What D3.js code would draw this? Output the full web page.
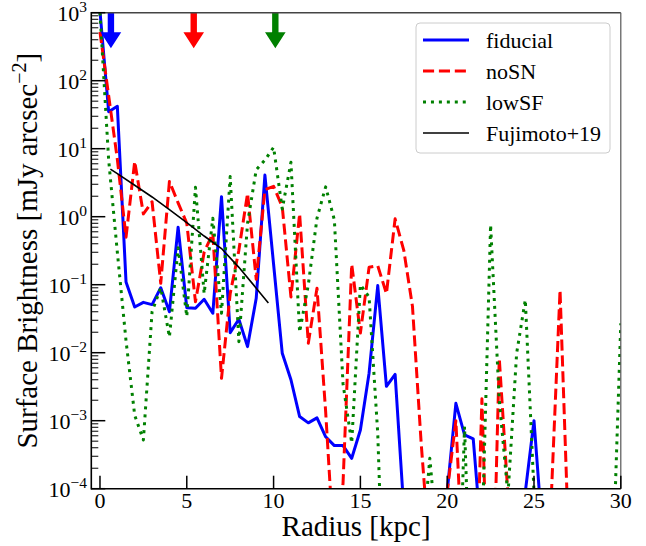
<!DOCTYPE html>
<html><head><meta charset="utf-8">
<script src="https://cdn.jsdelivr.net/npm/d3@7"></script>
<style>body{margin:0;background:#fff}svg{display:block}</style>
</head><body><svg id="c" width="646" height="546" font-family="Liberation Serif"></svg>
<script>
// ---- data ----
const radius = [
  0,0.5,1,1.5,2,2.5,3,3.5,4,4.5,
  5,5.5,6,6.5,7,7.5,8,8.5,9,9.5,
  10,10.5,11,11.5,12,12.5,13,13.5,14,14.5,
  15,15.5,16,16.5,17,17.5,18,18.5,19,19.5,
  20,20.5,21,21.5,22,22.5,23,23.5,24,24.5,
  25,25.5,26,26.5,27,27.5,28,28.5,29,29.5,
  30];
const fiducial = [
  1050,35,42,0.11,0.047,0.055,0.051,0.09,0.04,0.7,
  0.046,0.045,0.061,0.038,1.97,0.0197,0.031,0.0123,0.063,4.1,
  0.2,0.0098,0.004,0.00115,0.00093,0.0011,0.00058,0.00043,0.00043,0.00028,
  0.00073,0.005,0.097,0.0032,0.0048,5e-5,1e-7,1e-7,1e-7,1e-7,
  9e-5,0.0018,0.00062,0.00054,1.5e-5,1e-7,1e-7,1e-7,1e-7,9e-5,
  0.001,2e-5,1e-7,1e-7,1e-7,1e-7,1e-7,1e-7,1e-7,1e-7,
  1e-7];
const noSN = [
  520,60,7,0.5,6.5,1.1,1.66,0.105,3.3,1.6,
  0.8,0.056,0.3,0.57,0.0042,0.074,0.32,2.2,0.12,2.5,
  2.8,1.4,0.066,1.1,0.0138,0.089,0.00135,1e-5,1.2e-4,0.2,
  0.0195,0.18,0.19,0.074,0.93,0.32,0.048,0.00047,1e-5,1e-7,
  9e-5,0.001,2e-6,1e-7,0.0021,1e-7,0.0083,8e-5,1e-7,1e-7,
  1e-7,1e-7,8e-5,0.083,1.5e-5,1e-7,1e-7,1e-7,1e-7,1e-7,
  1e-7];
const lowSF = [
  1000,6.8,0.3,0.015,0.0012,0.00052,0.04,0.09,0.017,0.35,
  0.034,2.7,0.074,0.95,0.038,3.9,0.0145,0.8,4.9,6.8,
  10.5,1.3,6.3,0.02,0.1,0.95,2.75,0.9,0.0035,0.00047,
  0.1,0.066,0.00065,1e-7,1e-7,1e-7,1e-7,1e-5,0.00028,1e-5,
  1e-7,1e-7,0.00082,1e-7,1.6e-5,0.76,0.002,8e-5,0.0098,0.06,
  9e-5,1e-7,1e-7,1e-7,1e-7,1e-7,1e-7,1e-7,1e-7,3.5e-6,
  0.027];
const fujiR = [0.6,1,2,3,4,5,6,7,8,9,9.7];
const fujiV = [5.0,4.3,2.9,1.95,1.27,0.82,0.52,0.34,0.18,0.089,0.054];
const arrowR = [0.63,5.4,10.1];
const arrowTip = 300;
const xTicks = [0,5,10,15,20,25,30];
const yExps = [3,2,1,0,-1,-2,-3,-4];
const legendLabels = ["fiducial","noSN","lowSF","Fujimoto+19"];

// ---- layout ----
const svg = d3.select("#c");
const FONT = "Liberation Serif";
const L = 91.3, R = 620.8, T = 12.7, B = 488.7;
const x = d3.scaleLinear().domain([-0.5,30]).range([L,R]);
const y = d3.scaleLog().domain([1e-4,1e3]).range([B,T]);

svg.append("defs").append("clipPath").attr("id","clip")
  .append("rect").attr("x",L).attr("y",T).attr("width",R-L).attr("height",B-T);

const series = [
  {name:"fiducial", vals:fiducial, color:"#0000ff", w:3, dash:null},
  {name:"noSN", vals:noSN, color:"#ff0000", w:3, dash:"11.1,4.8"},
  {name:"lowSF", vals:lowSF, color:"#008000", w:3, dash:"3,4.95"}
];
const gData = svg.append("g").attr("clip-path","url(#clip)");
const line = d3.line().x(d=>x(d[0])).y(d=>y(d[1]));
series.forEach(s=>{
  gData.append("path").datum(radius.map((r,i)=>[r,s.vals[i]]))
    .attr("d",line).attr("fill","none").attr("stroke",s.color)
    .attr("stroke-width",s.w).attr("stroke-dasharray",s.dash)
    .attr("stroke-linejoin","round").attr("stroke-linecap", s.dash? "butt":"round");
});
gData.append("path").datum(fujiR.map((r,i)=>[r,fujiV[i]]))
  .attr("d",line).attr("fill","none").attr("stroke","#000").attr("stroke-width",1.6);

// arrows
const arrowColors = ["#0000ff","#ff0000","#008000"];
arrowR.forEach((r,i)=>{
  const cx = x(r), top = y(1e3), tip = y(arrowTip);
  const headLen = 16, headW = 10.3, shaftW = 3.2;
  const pts = [[cx-shaftW,top],[cx+shaftW,top],[cx+shaftW,tip-headLen],[cx+headW,tip-headLen],
               [cx,tip],[cx-headW,tip-headLen],[cx-shaftW,tip-headLen]];
  gData.append("polygon").attr("points",pts.map(p=>p.join(",")).join(" "))
    .attr("fill",arrowColors[i]);
});

// spines
svg.append("line").attr("x1",L).attr("x2",R).attr("y1",T).attr("y2",T).attr("stroke","#444").attr("stroke-width",1.4);
svg.append("line").attr("x1",R).attr("x2",R).attr("y1",T).attr("y2",B).attr("stroke","#555").attr("stroke-width",1.2);
svg.append("line").attr("x1",L).attr("x2",L).attr("y1",T-0.7).attr("y2",B+0.8).attr("stroke","#000").attr("stroke-width",1.6);
svg.append("line").attr("x1",L).attr("x2",R).attr("y1",B).attr("y2",B).attr("stroke","#000").attr("stroke-width",1.6);

// y ticks
const gy = svg.append("g");
yExps.forEach(e=>{
  const v = Math.pow(10,e), py = y(v);
  gy.append("line").attr("x1",L).attr("x2",L+14).attr("y1",py).attr("y2",py).attr("stroke","#000").attr("stroke-width",1.5);
  const t = gy.append("text").attr("x",87).attr("y",py+7.8).attr("text-anchor","end")
    .attr("font-family",FONT).attr("font-size",22);
  t.append("tspan").text("10");
  t.append("tspan").attr("dy",-9).attr("font-size",15.5).text(e<0?"\u2212"+(-e):String(e));
  if (e>-4) {
    for (let k=2;k<=9;k++){
      const mv = k*Math.pow(10,e-1), my = y(mv);
      gy.append("line").attr("x1",L).attr("x2",L+7).attr("y1",my).attr("y2",my).attr("stroke","#000").attr("stroke-width",1);
    }
  }
});
// x ticks
const gx = svg.append("g");
xTicks.forEach(v=>{
  const px = x(v);
  gx.append("line").attr("x1",px).attr("x2",px).attr("y1",B).attr("y2",B-13).attr("stroke","#000").attr("stroke-width",1.5);
  gx.append("text").attr("x",px).attr("y",508).attr("text-anchor","middle")
    .attr("font-family",FONT).attr("font-size",22).text(v);
});

// axis labels
svg.append("text").attr("x",(L+R)/2).attr("y",536).attr("text-anchor","middle")
  .attr("font-family",FONT).attr("font-size",29).text("Radius [kpc]");
const yl = svg.append("text").attr("transform",`translate(37,${(T+B)/2}) rotate(-90)`).attr("text-anchor","middle")
  .attr("font-family",FONT).attr("font-size",29);
yl.append("tspan").text("Surface Brightness [mJy arcsec");
yl.append("tspan").attr("dy",-11).attr("font-size",20).text("\u22122");
yl.append("tspan").attr("dy",11).text("]");

// legend
const lg = svg.append("g");
lg.append("rect").attr("x",416).attr("y",23).attr("width",194).attr("height",130).attr("rx",4)
  .attr("fill","#fff").attr("fill-opacity",0.8).attr("stroke","#cccccc").attr("stroke-width",1);
const legStyles = [
  {color:"#0000ff", w:3, dash:null},
  {color:"#ff0000", w:3, dash:"11.1,4.8"},
  {color:"#008000", w:3, dash:"3,4.95"},
  {color:"#000000", w:1.6, dash:null}];
legendLabels.forEach((lab,i)=>{
  const ry = 40 + i*31;
  lg.append("line").attr("x1",423).attr("x2",469).attr("y1",ry).attr("y2",ry)
    .attr("stroke",legStyles[i].color).attr("stroke-width",legStyles[i].w).attr("stroke-dasharray",legStyles[i].dash);
  lg.append("text").attr("x",486).attr("y",ry+7.5).attr("font-family",FONT).attr("font-size",22).text(lab);
});
</script></body></html>
